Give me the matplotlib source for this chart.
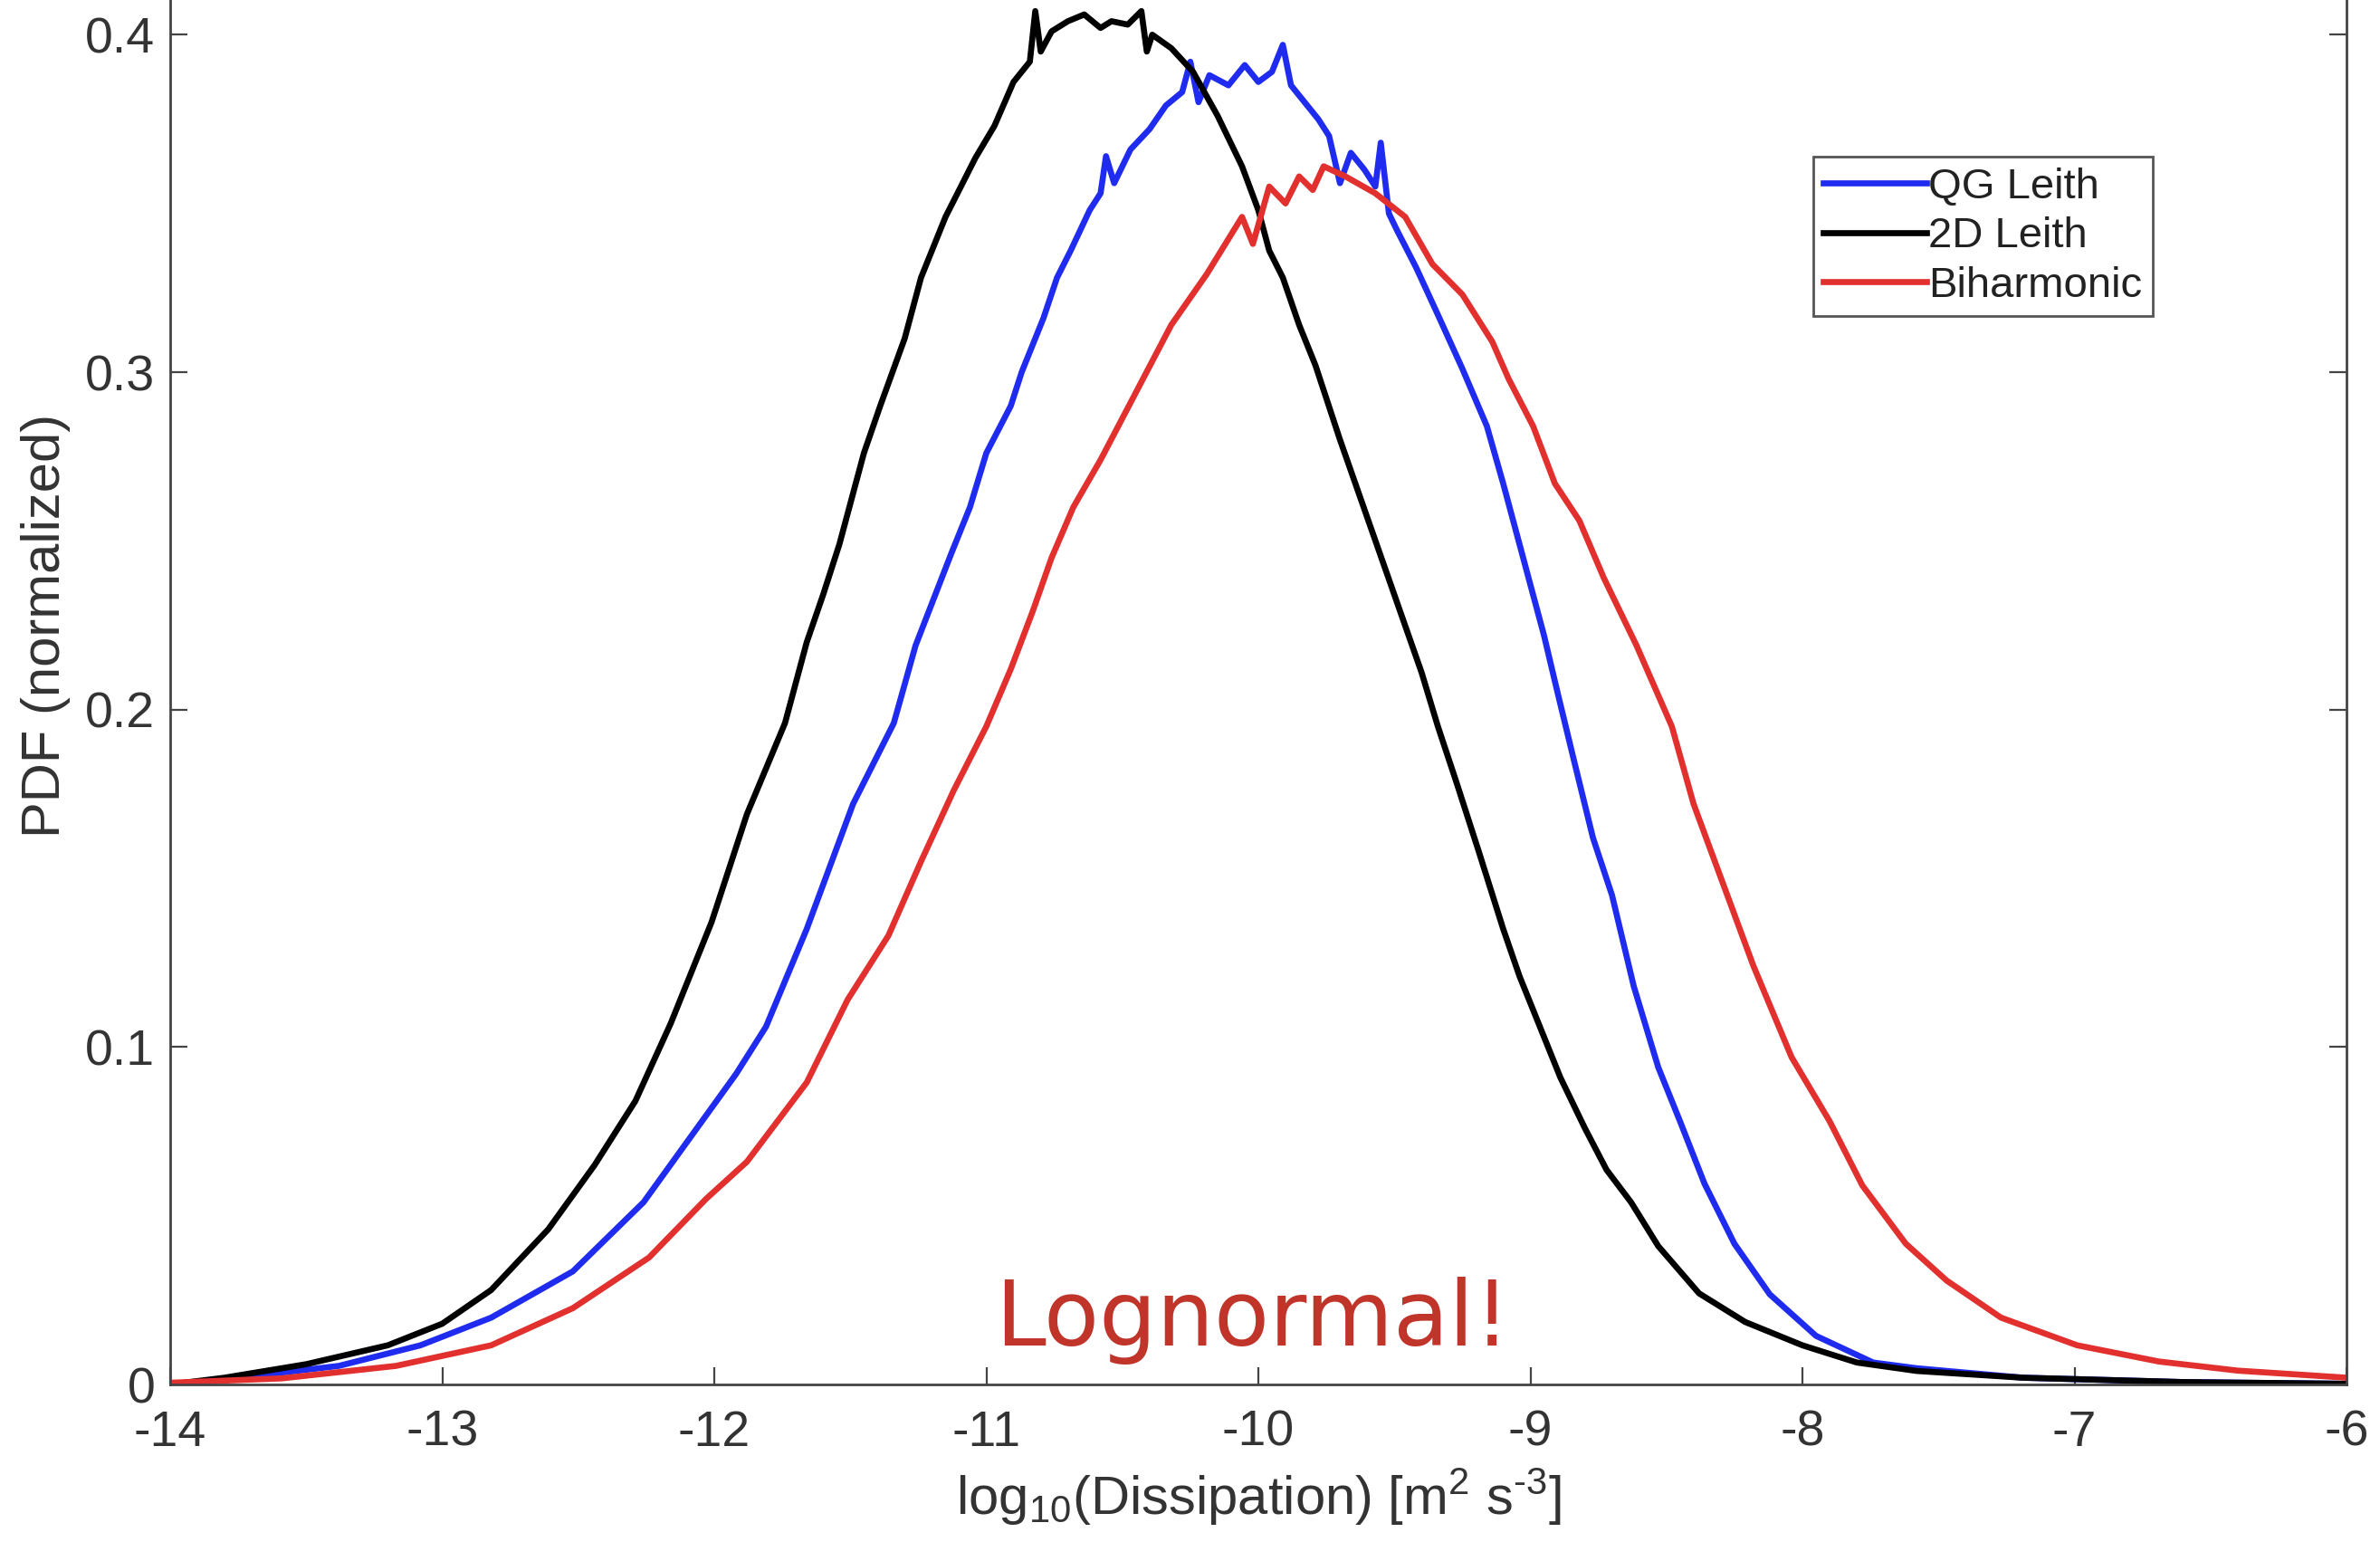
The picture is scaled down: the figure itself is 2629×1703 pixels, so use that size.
import matplotlib
matplotlib.use("Agg")
import matplotlib.pyplot as plt

plt.rcParams['font.family'] = ['Liberation Sans', 'DejaVu Sans']
plt.rcParams['axes.unicode_minus'] = False
plt.rcParams['mathtext.fontset'] = 'custom'
plt.rcParams['mathtext.rm'] = 'Liberation Sans'
plt.rcParams['mathtext.it'] = 'Liberation Sans'

# ---- data ----
x_2d = [-14.0, -13.8, -13.5, -13.2, -13.0, -12.82, -12.61, -12.44, -12.29, -12.16,
        -12.01, -11.88, -11.74, -11.66, -11.60, -11.54, -11.45, -11.39, -11.30, -11.24,
        -11.15, -11.04, -10.97, -10.90, -10.84, -10.82, -10.80, -10.76, -10.70, -10.64,
        -10.58, -10.54, -10.48, -10.43, -10.41, -10.39, -10.32, -10.24, -10.15, -10.06,
        -10.00, -9.96, -9.91, -9.85, -9.79, -9.70, -9.60, -9.50, -9.40, -9.34,
        -9.27, -9.19, -9.10, -9.04, -8.97, -8.89, -8.80, -8.72, -8.63, -8.53,
        -8.38, -8.21, -8.00, -7.80, -7.58, -7.19, -6.60, -6.00]
y_2d = [0.0, 0.002, 0.006, 0.0116, 0.018, 0.028, 0.046, 0.065, 0.084, 0.107,
        0.137, 0.169, 0.196, 0.220, 0.234, 0.249, 0.276, 0.290, 0.310, 0.328,
        0.346, 0.3635, 0.373, 0.386, 0.392, 0.407, 0.395, 0.401, 0.404, 0.406,
        0.402, 0.404, 0.403, 0.407, 0.395, 0.400, 0.396, 0.389, 0.376, 0.361,
        0.348, 0.336, 0.328, 0.314, 0.302, 0.280, 0.257, 0.234, 0.211, 0.195,
        0.178, 0.158, 0.135, 0.121, 0.107, 0.091, 0.076, 0.0636, 0.054, 0.041,
        0.027, 0.0185, 0.0116, 0.0065, 0.004, 0.002, 0.0007, 0.0002]

x_qg = [-14.0, -13.81, -13.38, -13.08, -12.82, -12.52, -12.26, -12.09, -11.92, -11.81,
        -11.66, -11.49, -11.34, -11.26, -11.13, -11.06, -11.00, -10.91, -10.87, -10.79,
        -10.74, -10.69, -10.62, -10.58, -10.56, -10.53, -10.47, -10.40, -10.34, -10.28,
        -10.25, -10.22, -10.18, -10.11, -10.05, -10.00, -9.95, -9.91, -9.88, -9.83,
        -9.78, -9.74, -9.70, -9.66, -9.61, -9.57, -9.55, -9.52, -9.49, -9.42,
        -9.34, -9.25, -9.16, -9.10, -9.03, -8.95, -8.90, -8.84, -8.77, -8.70,
        -8.62, -8.53, -8.45, -8.36, -8.25, -8.12, -7.95, -7.74, -7.58, -7.19,
        -6.60, -6.00]
y_qg = [0.0, 0.0014, 0.0055, 0.0116, 0.0198, 0.0335, 0.054, 0.073, 0.092, 0.106,
        0.135, 0.172, 0.196, 0.219, 0.246, 0.260, 0.276, 0.290, 0.300, 0.316,
        0.328, 0.336, 0.348, 0.353, 0.364, 0.356, 0.366, 0.372, 0.379, 0.383,
        0.392, 0.380, 0.388, 0.385, 0.391, 0.386, 0.389, 0.397, 0.385, 0.380,
        0.375, 0.370, 0.356, 0.365, 0.360, 0.355, 0.368, 0.347, 0.342, 0.331,
        0.317, 0.301, 0.284, 0.267, 0.246, 0.222, 0.205, 0.185, 0.162, 0.145,
        0.118, 0.094, 0.078, 0.0595, 0.0417, 0.0267, 0.0144, 0.0065, 0.0048, 0.002,
        0.0007, 0.0002]

x_bi = [-14.0, -13.59, -13.17, -12.82, -12.52, -12.24, -12.03, -11.88, -11.66, -11.51,
        -11.36, -11.24, -11.12, -11.00, -10.91, -10.83, -10.76, -10.68, -10.58, -10.45,
        -10.32, -10.19, -10.06, -10.02, -9.96, -9.90, -9.85, -9.80, -9.76, -9.68,
        -9.57, -9.46, -9.36, -9.25, -9.14, -9.08, -8.99, -8.91, -8.82, -8.73,
        -8.61, -8.48, -8.40, -8.29, -8.18, -8.04, -7.90, -7.78, -7.62, -7.47,
        -7.27, -6.99, -6.69, -6.40, -6.00]
y_bi = [0.0005, 0.0018, 0.0055, 0.0116, 0.0226, 0.0376, 0.055, 0.066, 0.0895, 0.114,
        0.133, 0.155, 0.176, 0.195, 0.212, 0.229, 0.245, 0.260, 0.274, 0.294,
        0.314, 0.329, 0.346, 0.338, 0.355, 0.350, 0.358, 0.354, 0.361, 0.358,
        0.353, 0.346, 0.332, 0.323, 0.309, 0.298, 0.284, 0.267, 0.256, 0.239,
        0.219, 0.195, 0.172, 0.148, 0.124, 0.097, 0.078, 0.059, 0.0417, 0.0308,
        0.0198, 0.0116, 0.0068, 0.0041, 0.002]

series_labels = ["QG Leith", "2D Leith", "Biharmonic"]
x_ticks = [-14, -13, -12, -11, -10, -9, -8, -7, -6]
y_ticks = [0, 0.1, 0.2, 0.3, 0.4]
y_ticklabels = ["0", "0.1", "0.2", "0.3", "0.4"]

# ---- figure ----
W, H, DPI = 2629, 1703, 100
fig = plt.figure(figsize=(W / DPI, H / DPI), dpi=DPI)
fig.patch.set_facecolor('white')

# axes run above the top of the picture (the original is cropped there)
ax_left, ax_right = 188 / W, 2592 / W
y0_px, y045_px = 1529, -148
ax_bottom = 1 - y0_px / H
ax_height = (y0_px - y045_px) / H
ax = fig.add_axes([ax_left, ax_bottom, ax_right - ax_left, ax_height])

lw = 4.8
c_blue = '#1f2cf0'
c_black = '#000000'
c_red = '#e2302e'
ax.plot(x_qg, y_qg, color=c_blue, lw=lw, label=series_labels[0])
ax.plot(x_2d, y_2d, color=c_black, lw=lw, label=series_labels[1])
ax.plot(x_bi, y_bi, color=c_red, lw=lw, label=series_labels[2])

ax.set_xlim(-14, -6)
ax.set_ylim(0, 0.45)

spine_c = '#444444'
for s in ['left', 'right', 'bottom', 'top']:
    ax.spines[s].set_color(spine_c)
    ax.spines[s].set_linewidth(2.0)

ax.set_xticks(x_ticks)
ax.set_xticklabels([str(t) for t in x_ticks])
ax.set_yticks(y_ticks)
ax.set_yticklabels(y_ticklabels)
ax.tick_params(axis='both', direction='in', length=14, width=1.6, color=spine_c,
               labelsize=40, labelcolor='#333333')
ax.tick_params(axis='y', right=True, left=True, pad=12)
ax.tick_params(axis='x', top=False, pad=20)

ax.set_xlabel(r'log$_{10}$(Dissipation) [m$^{2}$ s$^{\text{-3}}$]', fontsize=43,
              color='#333333', labelpad=8)
ax.set_ylabel('PDF (normalized)', fontsize=43, color='#333333', labelpad=12)

leg = ax.legend(loc='upper right', bbox_to_anchor=(2378 / W, 1 - 173 / H),
                bbox_transform=fig.transFigure, borderaxespad=0,
                fontsize=34, fancybox=False, framealpha=1, edgecolor='#555555',
                handlelength=2.4, handletextpad=0.05, labelspacing=0.22,
                borderpad=0.25)
leg.get_frame().set_linewidth(2.0)
for t in leg.get_texts():
    t.set_color('#222222')

ax.text(-10.02, 0.0115, 'Lognormal!', ha='center', va='baseline',
        fontsize=72, color='#c0342a', family='DejaVu Sans')

fig.savefig('out.png', dpi=DPI, facecolor='white')
